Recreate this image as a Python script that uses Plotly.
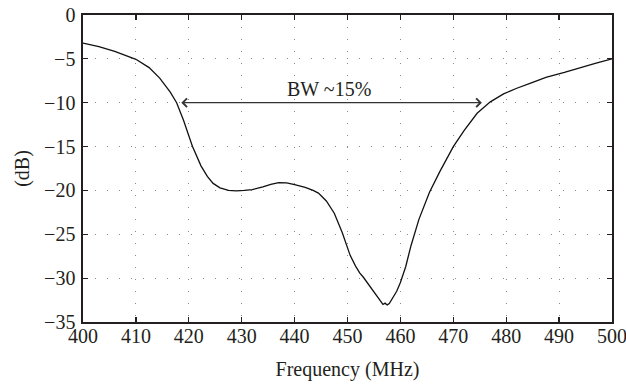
import plotly.graph_objects as go

# Frequency sweep (MHz) and reflection response (dB)
freq_mhz = [400, 403, 406, 410, 412.5, 414.5, 416.5, 417.7, 419, 420.7, 422.3, 423.5,
            424.6, 425.9, 427.5, 429, 430.5, 432, 434, 435.5, 437, 438.5, 440, 442,
            443.5, 444.5, 446, 447.5, 449, 450.5, 451.5, 452.3, 453, 453.8, 454.6,
            455.3, 455.8, 456.3, 456.7, 457.1, 457.5, 457.9, 458.3, 458.7, 459.3,
            460, 461, 462, 463.5, 465.5, 467.5, 470, 472, 474.5, 477, 479.5, 482,
            484.5, 487.5, 491, 494, 497, 500]
s11_db = [-3.2, -3.6, -4.15, -5.05, -6.0, -7.2, -8.8, -10.0, -12.0, -15.0, -17.2, -18.4,
          -19.2, -19.7, -20.0, -20.05, -20.0, -19.9, -19.6, -19.3, -19.1, -19.15, -19.35, -19.65,
          -20.0, -20.3, -21.2, -22.6, -24.8, -27.4, -28.6, -29.4, -29.9, -30.6, -31.2,
          -31.8, -32.3, -32.8, -33.0, -32.85, -33.05, -32.9, -32.5, -32.2, -31.5,
          -30.5, -28.7, -26.3, -23.3, -20.2, -17.8, -15.0, -13.2, -11.2, -9.9, -9.0, -8.35,
          -7.8, -7.1, -6.55, -6.0, -5.5, -5.0]

x_ticks = [400, 410, 420, 430, 440, 450, 460, 470, 480, 490, 500]
y_ticks = [-35, -30, -25, -20, -15, -10, -5, 0]

bw_start = 418.3
bw_end = 475.4
bw_level = -10
bw_label = "BW ~15%"
bw_label_x = 446.5
bw_label_y = -8.4

FONT = "Liberation Serif"
INK = "#231f20"

fig = go.Figure()
fig.add_trace(go.Scatter(x=freq_mhz, y=s11_db, mode="lines",
                         line=dict(color="#111111", width=1.3), showlegend=False,
                         hoverinfo="skip"))

# double-headed bandwidth arrow
fig.add_annotation(x=bw_end, y=bw_level, ax=bw_start, ay=bw_level,
                   xref="x", yref="y", axref="x", ayref="y",
                   text="", showarrow=True, arrowside="end+start",
                   arrowhead=4, startarrowhead=4, arrowsize=1.3, startarrowsize=1.3,
                   arrowwidth=1.3, arrowcolor="#333333")
fig.add_annotation(x=bw_label_x, y=bw_label_y, xref="x", yref="y", text=bw_label,
                   showarrow=False, font=dict(family=FONT, size=20, color=INK))

axis_common = dict(
    showline=True, linecolor=INK, linewidth=1.6, mirror="ticks",
    ticks="inside", ticklen=5, tickwidth=1.2, tickcolor=INK,
    showgrid=True, gridcolor="#8c8c8c", gridwidth=1, griddash="1px,11px",
    zeroline=False, ticklabeloverflow="allow",
    tickfont=dict(family=FONT, size=20, color=INK),
)

fig.update_xaxes(range=[400, 500], tickvals=x_ticks, ticklabelstandoff=-5,
                 title=dict(text="Frequency (MHz)", font=dict(family=FONT, size=20, color=INK),
                            standoff=16),
                 **axis_common)
fig.update_yaxes(range=[-35, 0], tickvals=y_ticks, ticklabelstandoff=2,
                 title=dict(text="(dB)", font=dict(family=FONT, size=20, color=INK),
                            standoff=9),
                 **axis_common)

fig.update_layout(width=626, height=385,
                  margin=dict(l=83, r=14, t=15, b=63, autoexpand=False),
                  plot_bgcolor="white", paper_bgcolor="white",
                  font=dict(family=FONT, size=20, color=INK))

# remove the browser's default body margin so the figure sits at the window origin
fig.write_html("out.html", config={"displayModeBar": False, "staticPlot": True},
               post_script="document.body.style.margin='0';")
